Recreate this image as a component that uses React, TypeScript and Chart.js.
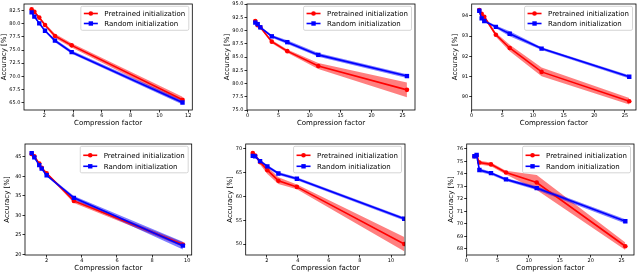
import React, { useEffect, useRef } from "react";
import { Chart, registerables } from "chart.js";

Chart.register(...registerables);

const FONT = "'DejaVu Sans', 'Liberation Sans', sans-serif";
const RED = "#ff0000";
const BLUE = "#0000ff";
const RED_BAND = "rgba(255,0,0,0.5)";
const BLUE_BAND = "rgba(0,0,255,0.5)";

const LABEL_PRE = "Pretrained initialization";
const LABEL_RND = "Random initialization";
const X_TITLE = "Compression factor";
const Y_TITLE = "Accuracy [%]";

// ---- Panel 1 (top left)
const x1 = [1.12, 1.31, 1.65, 2.05, 2.74, 3.9, 11.6];
const pre1 = [82.8, 82.3, 81.2, 79.8, 77.7, 75.9, 65.5];
const preErr1 = [0.2, 0.2, 0.2, 0.3, 0.4, 0.4, 0.6];
const rnd1 = [82.2, 81.4, 80.1, 78.7, 76.8, 74.6, 65.0];
const rndErr1 = [0.2, 0.2, 0.2, 0.2, 0.3, 0.3, 0.4];
const xTicks1 = [2, 4, 6, 8, 10, 12];
const yTicks1 = [65, 67.5, 70, 72.5, 75, 77.5, 80, 82.5];

// ---- Panel 2 (top middle)
const x2 = [1.24, 1.62, 2.05, 3.9, 6.4, 11.4, 25.7];
const pre2 = [91.8, 91.0, 90.6, 87.9, 86.1, 83.3, 78.8];
const preErr2 = [0.2, 0.2, 0.2, 0.3, 0.3, 0.55, 1.4];
const rnd2 = [91.5, 91.2, 90.6, 88.9, 87.8, 85.4, 81.4];
const rndErr2 = [0.2, 0.2, 0.2, 0.25, 0.35, 0.35, 0.35];
const xTicks2 = [0, 5, 10, 15, 20, 25];
const yTicks2 = [75, 77.5, 80, 82.5, 85, 87.5, 90, 92.5, 95];

// ---- Panel 3 (top right)
const x3 = [1.24, 1.62, 2.05, 3.94, 6.2, 11.4, 25.7];
const pre3 = [94.28, 94.1, 93.95, 93.06, 92.41, 91.23, 89.78];
const preErr3 = [0.05, 0.08, 0.08, 0.1, 0.16, 0.22, 0.16];
const rnd3 = [94.25, 93.87, 93.74, 93.45, 93.11, 92.38, 90.99];
const rndErr3 = [0.06, 0.06, 0.06, 0.07, 0.12, 0.07, 0.08];
const xTicks3 = [0, 5, 10, 15, 20, 25];
const yTicks3 = [90, 91, 92, 93, 94];

// ---- Panel 4 (bottom left)
const x4 = [1.15, 1.3, 1.58, 1.72, 2.0, 3.55, 9.75];
const pre4 = [45.8, 45.2, 43.3, 42.2, 40.8, 33.7, 22.5];
const preErr4 = [0.3, 0.3, 0.3, 0.3, 0.3, 0.5, 0.6];
const rnd4 = [46.0, 44.9, 42.9, 42.0, 40.3, 34.5, 22.2];
const rndErr4 = [0.3, 0.3, 0.3, 0.3, 0.3, 0.5, 1.0];
const xTicks4 = [2, 4, 6, 8, 10];
const yTicks4 = [20, 25, 30, 35, 40, 45];

// ---- Panel 5 (bottom middle)
const x5 = [1.1, 1.25, 1.57, 2.04, 2.75, 3.94, 10.85];
const pre5 = [69.1, 68.6, 67.2, 65.5, 63.3, 62.0, 50.0];
const preErr5 = [0.3, 0.3, 0.5, 0.8, 0.7, 0.5, 1.5];
const rnd5 = [68.5, 68.4, 67.4, 66.3, 64.8, 63.7, 55.3];
const rndErr5 = [0.3, 0.3, 0.3, 0.3, 0.3, 0.3, 0.35];
const xTicks5 = [2, 4, 6, 8, 10];
const yTicks5 = [50, 55, 60, 65, 70];

// ---- Panel 6 (bottom right)
const x6 = [1.25, 1.6, 2.05, 3.92, 6.34, 11.3, 25.6];
const pre6 = [75.4, 75.45, 74.9, 74.75, 74.1, 73.3, 68.2];
const preErr6 = [0.1, 0.1, 0.15, 0.15, 0.15, 0.6, 0.3];
const rnd6 = [75.4, 75.5, 74.3, 74.05, 73.55, 72.85, 70.2];
const rndErr6 = [0.1, 0.1, 0.15, 0.12, 0.12, 0.15, 0.17];
const xTicks6 = [0, 5, 10, 15, 20, 25];
const yTicks6 = [68, 69, 70, 71, 72, 73, 74, 75, 76];

type Box = { left: number; top: number; width: number; height: number };
type Area = { l: number; t: number; r: number; b: number };
type LegendCfg = { insetTop: number; first: number; pitch: number; height: number };
type Spec = {
  x: number[];
  pre: number[];
  preErr: number[];
  rnd: number[];
  rndErr: number[];
  xTicks: number[];
  yTicks: number[];
  yDec: number;
  xMin: number;
  xMax: number;
  yMin: number;
  yMax: number;
  box: Box;
  area: Area;
  padLeft: number;
  xTitlePad: number;
  legend: LegendCfg;
};

const LEG_TOP: LegendCfg = { insetTop: 2.3, first: 7.2, pitch: 10, height: 24 };
const LEG_BOT: LegendCfg = { insetTop: 2.3, first: 9, pitch: 11, height: 26.5 };

const specs: Spec[] = [
  {
    x: x1, pre: pre1, preErr: preErr1, rnd: rnd1, rndErr: rndErr1,
    xTicks: xTicks1, yTicks: yTicks1, yDec: 1,
    xMin: 0.59, xMax: 12.28, yMin: 63.56, yMax: 83.8,
    box: { left: 0, top: 0, width: 210, height: 137 },
    area: { l: 24, t: 2, r: 192.3, b: 110 },
    padLeft: 0, xTitlePad: 9.5, legend: LEG_TOP,
  },
  {
    x: x2, pre: pre2, preErr: preErr2, rnd: rnd2, rndErr: rndErr2,
    xTicks: xTicks2, yTicks: yTicks2, yDec: 1,
    xMin: -0.1, xMax: 27.0, yMin: 75, yMax: 95,
    box: { left: 210, top: 0, width: 230, height: 137 },
    area: { l: 247, t: 2, r: 415, b: 110 },
    padLeft: 12.5, xTitlePad: 9.5, legend: LEG_TOP,
  },
  {
    x: x3, pre: pre3, preErr: preErr3, rnd: rnd3, rndErr: rndErr3,
    xTicks: xTicks3, yTicks: yTicks3, yDec: 0,
    xMin: 0, xMax: 26.8, yMin: 89.35, yMax: 94.58,
    box: { left: 440, top: 0, width: 200, height: 137 },
    area: { l: 471.7, t: 2, r: 637, b: 110 },
    padLeft: 10.8, xTitlePad: 9.5, legend: LEG_TOP,
  },
  {
    x: x4, pre: pre4, preErr: preErr4, rnd: rnd4, rndErr: rndErr4,
    xTicks: xTicks4, yTicks: yTicks4, yDec: 0,
    xMin: 0.77, xMax: 10.25, yMin: 19.8, yMax: 48.34,
    box: { left: 0, top: 137, width: 210, height: 137 },
    area: { l: 25, t: 144, r: 191.7, b: 255 },
    padLeft: 3.1, xTitlePad: 1.5, legend: LEG_BOT,
  },
  {
    x: x5, pre: pre5, preErr: preErr5, rnd: rnd5, rndErr: rndErr5,
    xTicks: xTicks5, yTicks: yTicks5, yDec: 0,
    xMin: 0.645, xMax: 10.9, yMin: 47.7, yMax: 71.0,
    box: { left: 210, top: 137, width: 230, height: 137 },
    area: { l: 245.7, t: 144, r: 405, b: 255 },
    padLeft: 15.8, xTitlePad: 1.5, legend: LEG_BOT,
  },
  {
    x: x6, pre: pre6, preErr: preErr6, rnd: rnd6, rndErr: rndErr6,
    xTicks: xTicks6, yTicks: yTicks6, yDec: 0,
    xMin: 0, xMax: 27.0, yMin: 67.5, yMax: 76.38,
    box: { left: 440, top: 137, width: 200, height: 137 },
    area: { l: 466.7, t: 144, r: 634, b: 255 },
    padLeft: 6.5, xTitlePad: 1.5, legend: LEG_BOT,
  },
];

const framePlugin = {
  id: "mplFrame",
  afterDatasetsDraw(chart: any) {
    const { ctx, chartArea: a } = chart;
    ctx.save();
    ctx.strokeStyle = "#000";
    ctx.lineWidth = 0.8;
    ctx.strokeRect(a.left, a.top, a.right - a.left, a.bottom - a.top);
    ctx.restore();
  },
};

const legendPlugin = {
  id: "mplLegend",
  afterDraw(chart: any, _args: any, opts: any) {
    const a = chart.chartArea;
    const ctx = chart.ctx as CanvasRenderingContext2D;
    const items = chart.data.datasets.filter((d: any) => d.label);
    const f = 7;
    ctx.save();
    ctx.font = `${f}px ${FONT}`;
    const tw = Math.max(...items.map((d: any) => ctx.measureText(d.label).width));
    const w = 3 + 14 + 6.5 + tw + 3.5;
    const h = opts.height;
    const x0 = a.right - 3.5 - w;
    const y0 = a.top + opts.insetTop;
    const r = 1.5;
    ctx.beginPath();
    ctx.moveTo(x0 + r, y0);
    ctx.lineTo(x0 + w - r, y0);
    ctx.quadraticCurveTo(x0 + w, y0, x0 + w, y0 + r);
    ctx.lineTo(x0 + w, y0 + h - r);
    ctx.quadraticCurveTo(x0 + w, y0 + h, x0 + w - r, y0 + h);
    ctx.lineTo(x0 + r, y0 + h);
    ctx.quadraticCurveTo(x0, y0 + h, x0, y0 + h - r);
    ctx.lineTo(x0, y0 + r);
    ctx.quadraticCurveTo(x0, y0, x0 + r, y0);
    ctx.closePath();
    ctx.fillStyle = "rgba(255,255,255,0.8)";
    ctx.fill();
    ctx.strokeStyle = "#cccccc";
    ctx.lineWidth = 0.8;
    ctx.stroke();
    items.forEach((d: any, i: number) => {
      const cy = y0 + opts.first + i * opts.pitch;
      ctx.strokeStyle = d.borderColor;
      ctx.lineWidth = 1.6;
      ctx.beginPath();
      ctx.moveTo(x0 + 3, cy);
      ctx.lineTo(x0 + 17, cy);
      ctx.stroke();
      ctx.fillStyle = d.borderColor;
      if (d.pointStyle === "rect") {
        ctx.fillRect(x0 + 10 - 2.2, cy - 2.2, 4.4, 4.4);
      } else {
        ctx.beginPath();
        ctx.arc(x0 + 10, cy, 2.3, 0, Math.PI * 2);
        ctx.fill();
      }
      ctx.fillStyle = "#000";
      ctx.textBaseline = "middle";
      ctx.textAlign = "left";
      ctx.fillText(d.label, x0 + 23.5, cy + 0.5);
    });
    ctx.restore();
  },
};

function PanelChart({ spec }: { spec: Spec }) {
  const ref = useRef<HTMLCanvasElement>(null);
  useEffect(() => {
    const s = spec;
    const { box, area } = s;
    const band = (vals: number[], errs: number[], sign: number) =>
      s.x.map((x, i) => ({ x, y: vals[i] + sign * errs[i] }));
    const line = (vals: number[]) => s.x.map((x, i) => ({ x, y: vals[i] }));
    const bandDs = (data: any[], fill: any, color: string, order: number) => ({
      data,
      borderWidth: 0,
      borderColor: "rgba(0,0,0,0)",
      pointRadius: 0,
      fill,
      backgroundColor: color,
      order,
      tension: 0,
    });
    const chart = new Chart(ref.current as HTMLCanvasElement, {
      type: "line",
      data: {
        datasets: [
          bandDs(band(s.pre, s.preErr, 1), false, RED_BAND, 4),
          bandDs(band(s.pre, s.preErr, -1), "-1", RED_BAND, 4),
          bandDs(band(s.rnd, s.rndErr, 1), false, BLUE_BAND, 3),
          bandDs(band(s.rnd, s.rndErr, -1), "-1", BLUE_BAND, 3),
          {
            label: LABEL_PRE,
            data: line(s.pre),
            borderColor: RED,
            backgroundColor: RED,
            borderWidth: 1.6,
            pointStyle: "circle",
            pointRadius: 2.3,
            pointBorderWidth: 0,
            pointBackgroundColor: RED,
            fill: false,
            tension: 0,
            order: 2,
          },
          {
            label: LABEL_RND,
            data: line(s.rnd),
            borderColor: BLUE,
            backgroundColor: BLUE,
            borderWidth: 1.6,
            pointStyle: "rect",
            pointRadius: 3.1,
            pointBorderWidth: 0,
            pointBackgroundColor: BLUE,
            fill: false,
            tension: 0,
            order: 1,
          },
        ] as any,
      },
      options: {
        responsive: false,
        animation: false,
        devicePixelRatio: 1,
        events: [],
        layout: {
          padding: {
            left: s.padLeft,
            top: area.t - box.top,
            right: box.left + box.width - area.r,
            bottom: 0,
          },
        },
        plugins: {
          legend: { display: false },
          tooltip: { enabled: false },
          mplLegend: s.legend,
        } as any,
        scales: {
          x: {
            type: "linear",
            bounds: "data",
            min: s.xMin,
            max: s.xMax,
            afterBuildTicks: (sc: any) => {
              sc.ticks = s.xTicks.map((v) => ({ value: v }));
            },
            afterFit: (sc: any) => {
              sc.height = box.top + box.height - area.b;
              sc.paddingLeft = 0;
              sc.paddingRight = 0;
              sc.paddingTop = 0;
              sc.paddingBottom = 0;
            },
            grid: {
              display: true,
              drawOnChartArea: false,
              drawTicks: true,
              tickLength: 2.5,
              tickColor: "#000",
              tickWidth: 0.8,
            },
            border: { display: false },
            ticks: {
              font: { family: FONT, size: 5 },
              color: "#000",
              padding: 0,
              maxRotation: 0,
              autoSkip: false,
              callback: (v: any) => String(v),
            },
            title: {
              display: true,
              text: X_TITLE,
              font: { family: FONT, size: 7 },
              color: "#000",
              padding: { top: 0, bottom: s.xTitlePad },
            },
          },
          y: {
            type: "linear",
            bounds: "data",
            min: s.yMin,
            max: s.yMax,
            afterBuildTicks: (sc: any) => {
              sc.ticks = s.yTicks.map((v) => ({ value: v }));
            },
            afterFit: (sc: any) => {
              sc.width = area.l - box.left - s.padLeft;
              sc.paddingLeft = 0;
              sc.paddingRight = 0;
              sc.paddingTop = 0;
              sc.paddingBottom = 0;
            },
            grid: {
              display: true,
              drawOnChartArea: false,
              drawTicks: true,
              tickLength: 2.5,
              tickColor: "#000",
              tickWidth: 0.8,
            },
            border: { display: false },
            ticks: {
              font: { family: FONT, size: 5 },
              color: "#000",
              padding: 1,
              autoSkip: false,
              callback: (v: any) => Number(v).toFixed(s.yDec),
            },
            title: {
              display: true,
              text: Y_TITLE,
              font: { family: FONT, size: 7 },
              color: "#000",
              padding: { top: 0, bottom: 0 },
            },
          },
        },
      } as any,
      plugins: [framePlugin, legendPlugin],
    });
    return () => chart.destroy();
  }, [spec]);
  const { box } = spec;
  return (
    <canvas
      ref={ref}
      width={box.width}
      height={box.height}
      style={{
        position: "absolute",
        left: box.left,
        top: box.top,
        width: box.width,
        height: box.height,
      }}
    />
  );
}

export default function App() {
  return (
    <div
      style={{
        position: "absolute",
        left: 0,
        top: 0,
        width: 640,
        height: 274,
        background: "#ffffff",
        overflow: "hidden",
      }}
    >
      {specs.map((s, i) => (
        <PanelChart key={i} spec={s} />
      ))}
    </div>
  );
}
